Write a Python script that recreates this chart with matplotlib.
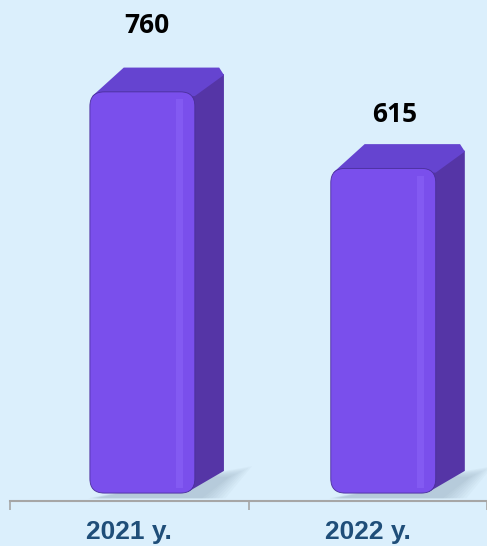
import numpy as np
import matplotlib.pyplot as plt
from matplotlib.patches import FancyBboxPatch, Polygon

# data
years = ["2021 y.", "2022 y."]
counts = [760, 615]

BG = "#dbeffc"
FRONT = "#7a4fec"
SIDE = "#5535a6"
TOP = "#6544d0"
LABEL_BLUE = "#1f4e79"

fig = plt.figure(figsize=(4.87, 5.46), dpi=100, facecolor=BG)
ax = fig.add_axes([10 / 487, 45 / 546, 477 / 487, 501 / 546])
ax.set_facecolor(BG)
ax.set_xlim(-0.5, 1.5)
ax.set_ylim(-15, 934)

# bar geometry in data units
left_off = -0.165
width = 0.44
dx = 0.122
dy = 46
px_x = 477 / 2.0          # pixels per x unit
px_y = 501 / 949.0        # pixels per y unit
aspect = px_x / px_y

for i, v in enumerate(counts):
    x0 = i + left_off + 0.01 * i
    x1 = x0 + width
    # soft shadow on the floor, fading to the right
    for k in range(8):
        grow = k * 0.014
        shadow = Polygon([(x0 + 0.03 - grow * 0.4, -10), (x1 + 0.03 + grow, -10),
                          (x1 + dx + 0.02 + grow, 30 + k * 3), (x1, 32)],
                         closed=True, facecolor="#7890a4", edgecolor="none", alpha=0.05, zorder=1)
        ax.add_patch(shadow)
    side = Polygon([(x1 - 0.03, 2), (x1 + dx, dy - 4), (x1 + dx, v + dy - 12), (x1 - 0.03, v)],
                   closed=True, facecolor=SIDE, edgecolor="none", zorder=2)
    ax.add_patch(side)
    top = Polygon([(x0 + 0.01, v - 8), (x0 + dx + 0.02, v + dy), (x1 + dx - 0.02, v + dy),
                   (x1 + dx, v + dy - 14), (x1, v - 8)],
                  closed=True, facecolor=TOP, edgecolor="none", zorder=2)
    ax.add_patch(top)
    front = FancyBboxPatch((x0, 0), width, v,
                           boxstyle="round,pad=0,rounding_size=0.06",
                           mutation_aspect=aspect,
                           facecolor=FRONT, edgecolor="#4a2f9a", linewidth=0.6, zorder=3)
    ax.add_patch(front)
    # light stripe near the right edge of the front face
    ax.fill_between([x1 - 0.08, x1 - 0.05], [10, 10], [v - 14, v - 14],
                    color="#8a63f7", alpha=0.6, linewidth=0, zorder=4)
    ax.text(x0 + width / 2 + 0.02 + 0.03 * i, v * 1.165, str(v), ha="center", va="center",
            fontsize=19, fontweight="bold", family="Open Sans", color="black")

# axis and ticks
for s in ["left", "right", "top"]:
    ax.spines[s].set_visible(False)
ax.spines["bottom"].set_color("#a6a6a6")
ax.spines["bottom"].set_linewidth(1.5)
ax.set_yticks([])
ax.set_xticks([-0.5, 0.5, 1.5])
ax.set_xticklabels([])
ax.tick_params(axis="x", which="major", length=6.5, width=1.2, color="#a6a6a6")
ax.set_xticks([0, 1], minor=True)
ax.set_xticklabels(years, minor=True)
ax.tick_params(axis="x", which="minor", length=0, pad=14)
for lbl in ax.get_xticklabels(minor=True):
    lbl.set_fontsize(19)
    lbl.set_fontweight("bold")
    lbl.set_family("Liberation Sans")
    lbl.set_color(LABEL_BLUE)

fig.savefig("out.png", dpi=100, facecolor=BG)
